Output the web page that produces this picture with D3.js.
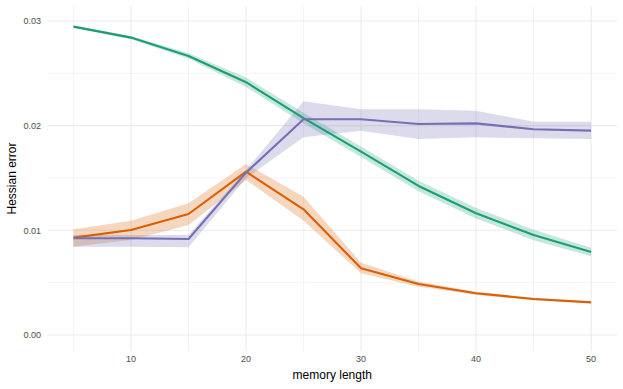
<!DOCTYPE html>
<html><head><meta charset="utf-8">
<script src="https://cdn.jsdelivr.net/npm/d3@7"></script>
<style>body{margin:0;background:#fff}svg{display:block}</style>
</head><body>
<svg id="c" width="623" height="389"></svg>
<script>
const memoryLength = [5,10,15,20,25,30,35,40,45,50];
const greenMean  = [0.02946,0.02841,0.02666,0.02415,0.02072,0.01751,0.01424,0.01163,0.00955,0.00793];
const greenLo    = [0.02936,0.02826,0.02641,0.02370,0.02022,0.01701,0.01374,0.01113,0.00905,0.00753];
const greenHi    = [0.02956,0.02856,0.02691,0.02460,0.02122,0.01801,0.01474,0.01213,0.01005,0.00833];
const orangeMean = [0.0093,0.01003,0.01156,0.0156,0.01201,0.00637,0.00487,0.00398,0.00344,0.00312];
const orangeLo   = [0.00844,0.00908,0.01051,0.01481,0.01092,0.00589,0.00462,0.00383,0.00332,0.00302];
const orangeHi   = [0.0101,0.01092,0.01258,0.01634,0.01321,0.00691,0.00512,0.00413,0.00356,0.00322];
const purpleMean = [0.00924,0.00924,0.00917,0.01551,0.02061,0.02061,0.02016,0.02022,0.01965,0.01952];
const purpleLo   = [0.00844,0.00844,0.00838,0.01497,0.01888,0.01952,0.01873,0.01888,0.01879,0.01873];
const purpleHi   = [0.00955,0.00955,0.00955,0.01576,0.02233,0.02156,0.02156,0.02143,0.02038,0.02038];
const xTicks = [10,20,30,40,50];
const yTicks = [0.00,0.01,0.02,0.03];
const xTitle = "memory length";
const yTitle = "Hessian error";

const series = [
  {mean: greenMean, lo: greenLo, hi: greenHi, color: "#1b9e77"},
  {mean: orangeMean, lo: orangeLo, hi: orangeHi, color: "#d95f02"},
  {mean: purpleMean, lo: purpleLo, hi: purpleHi, color: "#7570b3"}
];

const svg = d3.select("#c");
const L = 47.6, R = 617, T = 6, B = 351;
const x = d3.scaleLinear().domain([2.75, 52.25]).range([L, R]);
const y = d3.scaleLinear().domain([-0.00153, 0.03143]).range([B, T]);

const g = svg.append("g");
const xMinor = [5,15,25,35,45];
const yMinor = [0.005,0.015,0.025];
g.selectAll(".xm").data(xMinor).join("line")
  .attr("x1", d=>x(d)).attr("x2", d=>x(d)).attr("y1", T).attr("y2", B)
  .attr("stroke", "#ebebeb").attr("stroke-width", 0.6);
g.selectAll(".ym").data(yMinor).join("line")
  .attr("y1", d=>y(d)).attr("y2", d=>y(d)).attr("x1", L).attr("x2", R)
  .attr("stroke", "#ebebeb").attr("stroke-width", 0.6);
g.selectAll(".xM").data(xTicks).join("line")
  .attr("x1", d=>x(d)).attr("x2", d=>x(d)).attr("y1", T).attr("y2", B)
  .attr("stroke", "#ebebeb").attr("stroke-width", 1.1);
g.selectAll(".yM").data(yTicks).join("line")
  .attr("y1", d=>y(d)).attr("y2", d=>y(d)).attr("x1", L).attr("x2", R)
  .attr("stroke", "#ebebeb").attr("stroke-width", 1.1);

const area = (s) => d3.area().x((d,i)=>x(memoryLength[i])).y0((d,i)=>y(s.lo[i])).y1((d,i)=>y(s.hi[i]));
const line = d3.line().x((d,i)=>x(memoryLength[i])).y(d=>y(d));

series.forEach(s => {
  g.append("path").attr("d", area(s)(s.mean)).attr("fill", s.color).attr("fill-opacity", 0.25);
});
series.forEach(s => {
  g.append("path").attr("d", line(s.mean)).attr("fill", "none").attr("stroke", s.color)
    .attr("stroke-width", 2.1).attr("stroke-linejoin", "round");
});

const font = "Liberation Sans, Arial, sans-serif";
svg.selectAll(".xt").data(xTicks).join("text")
  .attr("x", d=>x(d)).attr("y", 362).attr("text-anchor", "middle")
  .attr("font-family", font).attr("font-size", 9).attr("fill", "#4d4d4d").text(d=>d);
svg.selectAll(".yt").data(yTicks).join("text")
  .attr("x", 41).attr("y", d=>y(d)+3.2).attr("text-anchor", "end")
  .attr("font-family", font).attr("font-size", 9).attr("fill", "#4d4d4d").text(d=>d3.format(".2f")(d));
svg.append("text").attr("x", x(27.5)).attr("y", 379).attr("text-anchor", "middle")
  .attr("font-family", font).attr("font-size", 12).attr("fill", "#000").text(xTitle);
svg.append("text").attr("transform", `translate(16,${(T+B)/2}) rotate(-90)`).attr("text-anchor", "middle")
  .attr("font-family", font).attr("font-size", 12).attr("fill", "#000").text(yTitle);
</script>
</body></html>
